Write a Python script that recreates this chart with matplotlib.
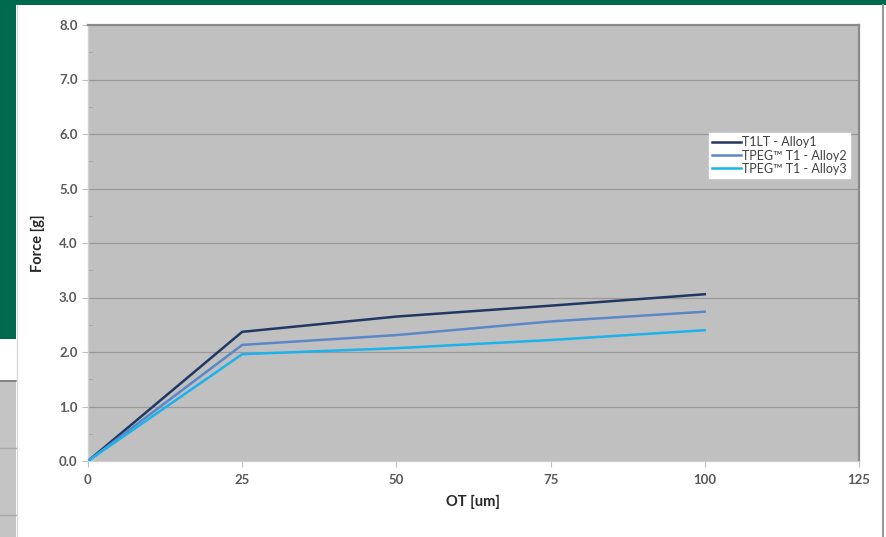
import numpy as np
import matplotlib
matplotlib.use("Agg")
import matplotlib.pyplot as plt
from matplotlib.patches import Rectangle
from matplotlib.lines import Line2D
from matplotlib.ticker import MultipleLocator

plt.rcParams['font.family'] = ['Lato', 'DejaVu Sans']

# overtravel (um) vs contact force (g)
ot = [0, 25, 50, 75, 100]
force_t1lt_alloy1 = [0.0, 2.37, 2.65, 2.85, 3.06]
force_tpeg_alloy2 = [0.0, 2.13, 2.31, 2.56, 2.74]
force_tpeg_alloy3 = [0.0, 1.96, 2.07, 2.22, 2.40]
series_names = ['T1LT - Alloy1', 'TPEG\u2122 T1 - Alloy2', 'TPEG\u2122 T1 - Alloy3']
series_colors = ['#1f3864', '#5b87c8', '#1cb2ec']

W, H = 886, 537
fig = plt.figure(figsize=(W / 100, H / 100), dpi=100)
fig.patch.set_facecolor('white')


def px_rect(x0, y0, x1, y1, **kw):
    # rectangle given in pixel coords (origin top-left)
    r = Rectangle((x0 / W, 1 - y1 / H), (x1 - x0) / W, (y1 - y0) / H,
                  transform=fig.transFigure, **kw)
    fig.add_artist(r)


def px_hline(x0, x1, y, **kw):
    fig.add_artist(Line2D([x0 / W, x1 / W], [1 - y / H, 1 - y / H],
                          transform=fig.transFigure, **kw))


def px_vline(x, y0, y1, **kw):
    fig.add_artist(Line2D([x / W, x / W], [1 - y0 / H, 1 - y1 / H],
                          transform=fig.transFigure, **kw))


# slide background around the chart
green = '#006a4e'
px_rect(0, 0, W, 5, color=green, lw=0)
px_rect(0, 0, 16, 339, color=green, lw=0)
px_rect(0, 380, 16, H, color='#c4c4c4', lw=0)
px_hline(0, 16, 380.5, color='#7a7a7a', lw=1.2)
px_hline(0, 16, 448, color='#a8a8a8', lw=1)
px_hline(0, 16, 515, color='#a8a8a8', lw=1)
px_vline(16.5, 5, H, color='#d8d8d8', lw=1)
px_vline(883, 5, H, color='#9a9a9a', lw=1.5)

ax = fig.add_axes([88 / W, (H - 461) / H, (859 - 88) / W, (461 - 25) / H])
ax.set_facecolor('#c0c0c0')

for ys, name, col in zip([force_t1lt_alloy1, force_tpeg_alloy2, force_tpeg_alloy3],
                         series_names, series_colors):
    ax.plot(ot, ys, color=col, lw=1.8, label=name, zorder=3, solid_joinstyle='miter')

ax.set_xlim(0, 125)
ax.set_ylim(0, 8)
ax.xaxis.set_major_locator(MultipleLocator(25))
ax.yaxis.set_major_locator(MultipleLocator(1))
ax.yaxis.set_minor_locator(MultipleLocator(0.5))
ax.yaxis.set_major_formatter(matplotlib.ticker.FormatStrFormatter('%.1f'))

ax.grid(axis='y', which='major', color='#999999', lw=0.9)
ax.set_axisbelow(True)

ax.tick_params(axis='both', which='major', direction='out', length=4,
               color='#bfbfbf', labelcolor='#595959', labelsize=9.5)
ax.tick_params(axis='y', which='minor', direction='in', length=3, color='#a0a0a0')
ax.tick_params(axis='x', pad=5)
for lab in ax.get_xticklabels() + ax.get_yticklabels():
    lab.set_fontweight('bold')

for side in ['left', 'bottom']:
    ax.spines[side].set_color('#d0d0d0')
    ax.spines[side].set_linewidth(1)
for side in ['top', 'right']:
    ax.spines[side].set_color('#8a8a8a')
    ax.spines[side].set_linewidth(1.6)

ax.set_xlabel('OT [um]', fontsize=10.5, fontweight='bold', color='#262626', labelpad=7)
ax.set_ylabel('Force [g]', fontsize=10.5, fontweight='bold', color='#262626', labelpad=10)

leg = ax.legend(loc='upper left', bbox_to_anchor=(0.805, 0.752), fontsize=9,
                frameon=True, fancybox=False, edgecolor='white', framealpha=1,
                handlelength=2.3, handletextpad=0.1, borderpad=0.25,
                labelspacing=0.1, borderaxespad=0)
for t in leg.get_texts():
    t.set_color('#404040')

fig.savefig('out.png', dpi=100)
